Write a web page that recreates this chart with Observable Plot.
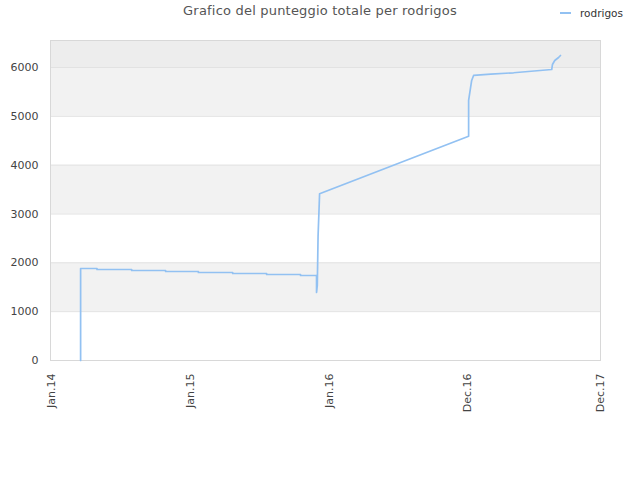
<!DOCTYPE html>
<html>
<head>
<meta charset="utf-8">
<script src="https://cdn.jsdelivr.net/npm/d3@7"></script>
<script src="https://cdn.jsdelivr.net/npm/@observablehq/plot@0.6"></script>
<style>
  html, body { margin: 0; padding: 0; background: #fff; }
  #wrap { position: relative; width: 640px; height: 480px; font-family: "DejaVu Sans", sans-serif; }
  #title { position: absolute; top: 3px; left: 0; width: 640px; text-align: center; font-size: 13px; letter-spacing: 0.2px; color: #555; }
  #legend { position: absolute; top: 7px; left: 560px; font-size: 10.5px; color: #333; display: flex; align-items: center; }
  #legend .swatch { width: 11px; height: 2px; background: #92c1f2; margin-right: 9px; }
  #chart { position: absolute; top: 0; left: 0; }
</style>
</head>
<body>
<div id="wrap">
  <div id="chart"></div>
  <div id="title">Grafico del punteggio totale per rodrigos</div>
  <div id="legend"><span class="swatch"></span><span>rodrigos</span></div>
</div>
<script>
// Series: total score for "rodrigos" (dates)
const dates = [
  "2014-03-19","2014-03-19","2014-05-01","2014-05-01","2014-07-31","2014-07-31",
  "2014-10-28","2014-10-28","2015-01-22","2015-01-22","2015-04-22","2015-04-22",
  "2015-07-20","2015-07-20","2015-10-17","2015-10-17","2015-11-28","2015-11-28",
  "2015-11-30","2015-12-02","2015-12-06","2016-12-31","2016-12-31","2017-01-04",
  "2017-01-08","2017-01-13","2017-02-27","2017-04-28","2017-08-06","2017-08-08",
  "2017-08-14","2017-08-24","2017-08-29"
];
const scores = [
  0, 1884, 1884, 1864, 1864, 1843,
  1843, 1823, 1823, 1802, 1802, 1782,
  1782, 1761, 1761, 1741, 1741, 1393,
  1536, 2545, 3414, 4593, 5325, 5530,
  5734, 5837, 5863, 5892, 5959, 6062,
  6144, 6205, 6246
];
const seriesName = "rodrigos";

// Axis ticks
const xTickDates = ["2014-01-01","2015-01-01","2016-01-01","2016-12-28","2017-12-12"];
const xTickLabels = ["Jan.14","Jan.15","Jan.16","Dec.16","Dec.17"];
const yTicks = [0, 1000, 2000, 3000, 4000, 5000, 6000];
const xDomain = ["2013-12-30","2017-12-12"];
const yDomain = [0, 6553];

// Alternating background bands
const bandLows  = [1000, 3000, 5000, 6000];
const bandHighs = [2000, 4000, 6000, 6553];
const bandFills = ["#f2f2f2", "#f2f2f2", "#f2f2f2", "#ededed"];

const parse = d3.utcParse("%Y-%m-%d");
const data = dates.map((d, i) => ({date: parse(d), score: scores[i], name: seriesName}));
const bands = bandLows.map((lo, i) => ({y1: lo, y2: bandHighs[i], fill: bandFills[i]}));
const tickDates = xTickDates.map(parse);

const chart = Plot.plot({
  width: 640,
  height: 480,
  marginTop: 40,
  marginBottom: 120,
  marginLeft: 50,
  marginRight: 40,
  style: {fontFamily: "DejaVu Sans, sans-serif", background: "#fff"},
  x: {type: "utc", domain: xDomain.map(parse)},
  y: {domain: yDomain},
  marks: [
    Plot.rect(bands, {y1: "y1", y2: "y2", fill: "fill"}),
    Plot.ruleY(yTicks.slice(1), {stroke: "#e2e2e2", strokeWidth: 1}),
    Plot.frame({stroke: "#d8d8d8"}),
    Plot.axisY({ticks: yTicks, tickFormat: d => String(d), tickSize: 0, tickPadding: 12, fontSize: 11, color: "#444", label: null}),
    Plot.axisX({ticks: tickDates, tickFormat: (d, i) => xTickLabels[i], tickRotate: -90, tickSize: 0, tickPadding: 13, fontSize: 11, color: "#444", label: null}),
    Plot.line(data, {x: "date", y: "score", stroke: "#92c1f2", strokeWidth: 1.7, curve: "linear"})
  ]
});
document.getElementById("chart").appendChild(chart);
</script>
</body>
</html>
